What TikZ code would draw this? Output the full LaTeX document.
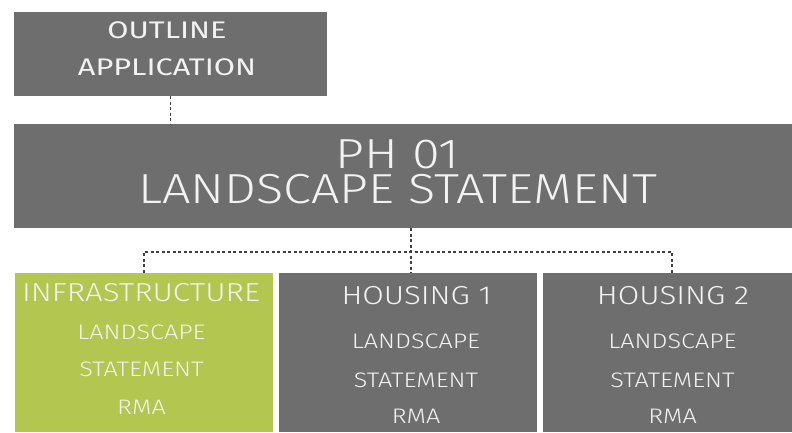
\documentclass[tikz,border=0pt]{standalone}
\usepackage{fontspec}
\setmainfont{Fira Sans}
\newfontfamily\headfont[FakeStretch=1.28]{Fira Sans}
\newfontfamily\thinfont[FakeStretch=1.2]{Fira Sans Light}
\definecolor{boxgray}{HTML}{6E6E6E}
\definecolor{boxgreen}{HTML}{B2C650}
\definecolor{lettering}{HTML}{F2F2F2}
\begin{document}
\begin{tikzpicture}[x=1pt,y=-1pt,
		box/.style={fill=boxgray,inner sep=0pt,minimum width=258pt,minimum height=159pt},
		caption/.style={text=lettering,inner sep=0pt,font=\thinfont\fontsize{26}{26}\selectfont},
		entry/.style={text=lettering,inner sep=0pt,font=\thinfont\fontsize{21}{21}\selectfont},
		link/.style={line width=1.2pt,color=black!75,dash pattern=on 3pt off 2.5pt}]
	\useasboundingbox (0,0) rectangle (792,432);
	% top row
	\node[box,minimum width=313pt,minimum height=84pt] (outline) at (170.5,54) {};
	\node[text=lettering,inner sep=0pt,font=\headfont\fontsize{24}{24}\selectfont] (outline1) at (167,30) {OUTLINE};
	\node[text=lettering,inner sep=0pt,font=\headfont\fontsize{24}{24}\selectfont] (outline2) at (167,67) {APPLICATION};
	\node[box,minimum width=778pt,minimum height=104pt] (ph) at (403,176) {};
	\node[caption,align=center,font=\thinfont\fontsize{42}{35}\selectfont] (phtitle) at (397.5,172) {PH 01\\LANDSCAPE STATEMENT};
	% bottom row
	\node[box,fill=boxgreen] (infra) at (144,352.5) {};
	\node[box] (house1) at (408,352.5) {};
	\node[box] (house2) at (672,352.5) {};
	\node[caption] (infra1) at (141,293) {INFRASTRUCTURE};
	\node[entry] (infra2) at (141.5,332) {LANDSCAPE};
	\node[entry] (infra3) at (141.5,369) {STATEMENT};
	\node[entry] (infra4) at (141.5,407) {RMA};
	\node[caption] (house11) at (416.5,296) {HOUSING 1};
	\node[entry] (house12) at (416,341) {LANDSCAPE};
	\node[entry] (house13) at (416,380) {STATEMENT};
	\node[entry] (house14) at (416,416) {RMA};
	\node[caption] (house21) at (673,296) {HOUSING 2};
	\node[entry] (house22) at (672.5,341) {LANDSCAPE};
	\node[entry] (house23) at (672.5,380) {STATEMENT};
	\node[entry] (house24) at (672.5,416) {RMA};
	% dashed links
	\coordinate (hub) at (411,252);
	\draw[link] (outline.south) -- (outline.south |- ph.north);
	\draw[link] (ph.south -| hub) -- (hub |- house1.north);
	\draw[link] (infra.north) |- (hub) -| (house2.north);
\end{tikzpicture}
\end{document}
